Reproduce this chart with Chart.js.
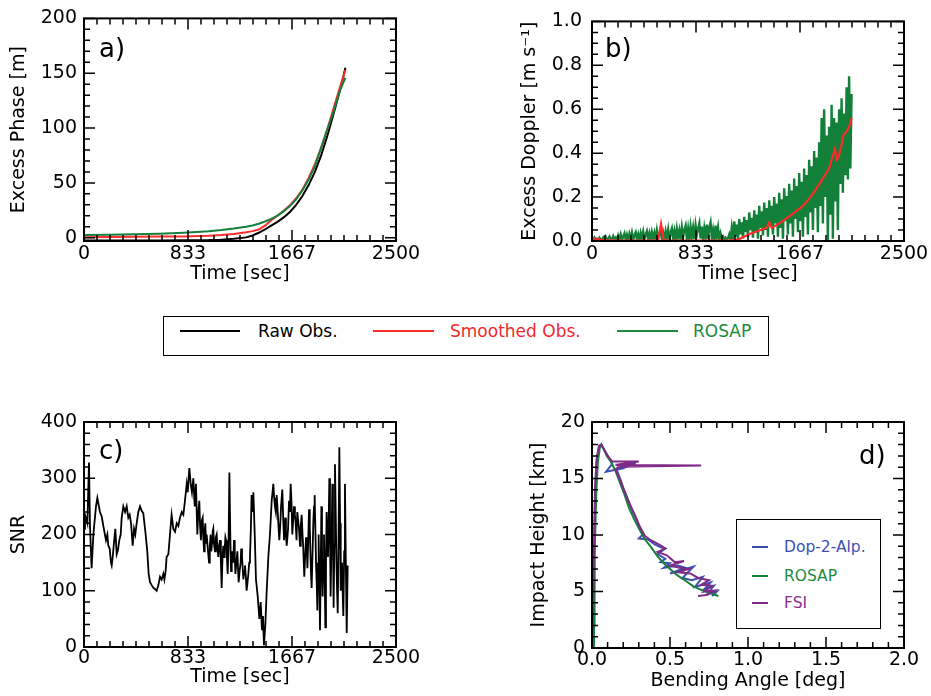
<!DOCTYPE html>
<html>
<head>
<meta charset="utf-8">
<script src="https://cdn.jsdelivr.net/npm/chart.js@4.4.1/dist/chart.umd.min.js"></script>
<style>
  body { margin: 0; background: #fff; width: 931px; height: 696px; position: relative; overflow: hidden; font-family: "DejaVu Sans", sans-serif; }
  canvas { position: absolute; }
  .tag { position: absolute; font-size: 26px; line-height: 26px; color: #000; }
  .legend { position: absolute; border: 1.5px solid #000; background: #fff; box-sizing: border-box; }
  .item { position: absolute; white-space: nowrap; }
  .swatch { position: absolute; height: 2px; }
</style>
</head>
<body>
<canvas id="cA" width="465" height="300" style="left:0;top:0"></canvas>
<canvas id="cB" width="466" height="300" style="left:465px;top:0"></canvas>
<canvas id="cC" width="465" height="296" style="left:0;top:400px"></canvas>
<canvas id="cD" width="466" height="296" style="left:465px;top:400px"></canvas>

<div class="tag" style="left:99px;top:35px">a)</div>
<div class="tag" style="left:605px;top:35px">b)</div>
<div class="tag" style="left:99px;top:437px">c)</div>
<div class="tag" style="left:859px;top:442px">d)</div>

<div class="legend" style="left:163px;top:316px;width:606px;height:40px;font-size:17px">
  <div class="swatch" style="left:16px;top:13px;width:60px;background:#000"></div>
  <div class="item" style="left:94px;top:4px;line-height:20px;color:#000">Raw Obs.</div>
  <div class="swatch" style="left:209px;top:13px;width:61px;background:#ff2a2a"></div>
  <div class="item" style="left:286px;top:4px;line-height:20px;color:#f0282d">Smoothed Obs.</div>
  <div class="swatch" style="left:453px;top:13px;width:61px;background:#1e8a3c"></div>
  <div class="item" style="left:529px;top:4px;line-height:20px;color:#1e8a3c">ROSAP</div>
</div>

<div class="legend" style="left:736px;top:519px;width:145px;height:110px;font-size:15.5px">
  <div class="swatch" style="left:15px;top:26px;width:16px;background:#3c50b4"></div>
  <div class="item" style="left:47px;top:17px;line-height:20px;color:#3c50b4">Dop-2-Alp.</div>
  <div class="swatch" style="left:15px;top:55px;width:16px;background:#15803c"></div>
  <div class="item" style="left:47px;top:46px;line-height:20px;color:#1e8a3c">ROSAP</div>
  <div class="swatch" style="left:15px;top:82px;width:16px;background:#7f2a85"></div>
  <div class="item" style="left:47px;top:73px;line-height:20px;color:#8b2e8e">FSI</div>
</div>

<script>
// a) excess phase [m]
const tPhase = [0, 200, 400, 600, 800, 1000, 1100, 1200, 1300, 1350, 1400, 1450, 1500, 1550, 1600, 1650, 1700, 1750, 1800, 1850, 1900, 1950, 2000, 2050, 2095];
const phaseRaw = [-2.5, -2.5, -2.5, -2.5, -2.4, -2.2, -1.8, -1.0, 0.3, 2.0, 4.5, 7.5, 11.0, 14.5, 18.5, 23.5, 30.0, 38.0, 48.0, 60.0, 75.0, 93.0, 113.0, 134.0, 155.0];
const phaseSmooth = [0.5, 0.6, 0.8, 1.0, 1.2, 1.8, 2.4, 3.4, 5.0, 6.0, 7.5, 11.0, 16.0, 20.0, 24.5, 29.5, 36.0, 44.0, 54.5, 67.0, 82.0, 99.0, 118.0, 137.0, 153.0];
const phaseRosap = [2.5, 2.8, 3.2, 3.7, 4.6, 6.0, 7.0, 8.3, 10.0, 11.2, 12.8, 14.8, 17.2, 20.2, 24.0, 28.8, 35.0, 43.0, 53.0, 65.0, 82.0, 99.0, 115.0, 134.0, 146.0];

// b) excess doppler [m/s]
const tDop = [
  0, 10, 20, 30, 40, 50, 60, 70, 80, 90, 100, 110, 120, 130, 140, 150, 160, 170, 180, 190,
  200, 210, 220, 230, 240, 250, 260, 270, 280, 290, 300, 310, 320, 330, 340, 350, 360, 370, 380, 390,
  400, 410, 420, 430, 440, 450, 460, 470, 480, 490, 500, 510, 520, 530, 540, 550, 560, 570, 580, 590,
  600, 610, 620, 630, 640, 650, 660, 670, 680, 690, 700, 710, 720, 730, 740, 750, 760, 770, 780, 790,
  800, 810, 820, 830, 840, 850, 860, 870, 880, 890, 900, 910, 920, 930, 940, 950, 960, 970, 980, 990,
  1000, 1010, 1020, 1030, 1040, 1050, 1060, 1070, 1080, 1090, 1100, 1110, 1120, 1130, 1140, 1150, 1160, 1170, 1180, 1190,
  1200, 1210, 1220, 1230, 1240, 1250, 1260, 1270, 1280, 1290, 1300, 1310, 1320, 1330, 1340, 1350, 1360, 1370, 1380, 1390,
  1400, 1410, 1420, 1430, 1440, 1450, 1460, 1470, 1480, 1490, 1500, 1510, 1520, 1530, 1540, 1550, 1560, 1570, 1580, 1590,
  1600, 1610, 1620, 1630, 1640, 1650, 1660, 1670, 1680, 1690, 1700, 1710, 1720, 1730, 1740, 1750, 1760, 1770, 1780, 1790,
  1800, 1810, 1820, 1830, 1840, 1850, 1860, 1870, 1880, 1890, 1900, 1910, 1920, 1930, 1940, 1950, 1960, 1970, 1980, 1990,
  2000, 2010, 2020, 2030, 2040, 2050, 2060, 2070, 2080
];
const dopRosap = [
  0.012, 0.003, 0.015, 0.005, 0.010, 0.002, 0.014, 0.004, 0.008, 0.016, 0.005, 0.018, 0.003, 0.012, 0.020, 0.004, 0.010, 0.022, 0.006, 0.015,
  0.002, 0.025, 0.008, 0.030, 0.004, 0.020, 0.035, 0.006, 0.028, 0.003, 0.032, 0.010, 0.038, 0.005, 0.026, 0.040, 0.008, 0.030, 0.002, 0.036,
  0.012, 0.042, 0.006, 0.030, 0.045, 0.010, 0.035, 0.004, 0.040, 0.015, 0.038, 0.003, 0.048, 0.012, 0.030, 0.050, 0.008, 0.036, 0.002, 0.044,
  0.015, 0.052, 0.006, 0.040, 0.058, 0.012, 0.045, 0.004, 0.055, 0.018, 0.048, 0.008, 0.062, 0.020, 0.050, 0.070, 0.010, 0.055, 0.005, 0.065,
  0.020, 0.060, 0.008, 0.072, 0.030, 0.055, 0.080, 0.012, 0.065, 0.004, 0.058, 0.018, 0.075, 0.010, 0.062, 0.085, 0.015, 0.050, 0.003, 0.070,
  0.020, 0.060, 0.008, 0.035, 0.012, 0.020, 0.004, 0.015, 0.008, 0.012, 0.030, 0.005, 0.060, 0.015, 0.090, 0.020, 0.075, 0.010, 0.100, 0.030,
  0.085, 0.012, 0.110, 0.040, 0.095, 0.020, 0.130, 0.050, 0.105, 0.015, 0.140, 0.040, 0.120, 0.010, 0.160, 0.060, 0.135, 0.025, 0.175, 0.050,
  0.150, 0.020, 0.185, 0.070, 0.160, 0.030, 0.200, 0.080, 0.170, 0.020, 0.220, 0.060, 0.190, 0.010, 0.240, 0.090, 0.205, 0.030, 0.260, 0.080,
  0.230, 0.020, 0.285, 0.100, 0.250, 0.040, 0.310, 0.090, 0.270, 0.020, 0.330, 0.110, 0.300, 0.030, 0.370, 0.130, 0.340, 0.050, 0.410, 0.150,
  0.380, 0.040, 0.450, 0.160, 0.560, 0.080, 0.600, 0.200, 0.480, 0.000, 0.520, 0.120, 0.620, 0.010, 0.560, 0.180, 0.540, 0.050, 0.600, 0.260,
  0.650, 0.220, 0.580, 0.300, 0.700, 0.280, 0.750, 0.330, 0.670
];
const tSmooth = [0, 50, 100, 200, 300, 400, 500, 530, 553, 575, 600, 700, 800, 900, 1000, 1100, 1150, 1180, 1200, 1250, 1300, 1350, 1400, 1420, 1440, 1500, 1533, 1600, 1667, 1700, 1750, 1800, 1867, 1900, 1920, 1947, 1960, 1974, 2000, 2014, 2040, 2060, 2081];
const dopSmooth = [0.012, 0.008, 0.004, 0.002, 0.002, 0.002, 0.003, 0.005, 0.078, 0.005, 0.002, 0.002, 0.002, 0.002, 0.002, 0.003, 0.005, 0.008, 0.015, 0.028, 0.040, 0.050, 0.060, 0.085, 0.060, 0.080, 0.093, 0.120, 0.150, 0.165, 0.200, 0.240, 0.300, 0.330, 0.370, 0.420, 0.370, 0.380, 0.440, 0.480, 0.500, 0.520, 0.560];

// c) SNR
const tSnr = [
  0, 8, 27, 40, 48, 61, 75, 96, 107, 128,
  142, 155, 176, 187, 195, 206, 216, 222, 230, 240,
  251, 262, 272, 283, 294, 302, 315, 329, 342, 355,
  366, 377, 390, 401, 411, 422, 435, 449, 462, 475,
  494, 507, 518, 529, 542, 556, 569, 582, 596, 609,
  622, 636, 644, 654, 662, 676, 689, 702, 716, 729,
  743, 756, 769, 783, 796, 809, 823, 831, 844, 855,
  865, 876, 887, 897, 908, 916, 924, 930, 937, 944,
  951, 956, 962, 967, 972, 978, 983, 992, 1002, 1008,
  1015, 1020, 1026, 1031, 1036, 1043, 1050, 1056, 1063, 1070,
  1076, 1083, 1090, 1097, 1103, 1110, 1116, 1122, 1127, 1133,
  1138, 1145, 1151, 1158, 1165, 1172, 1178, 1184, 1189, 1196,
  1202, 1208, 1213, 1221, 1229, 1234, 1239, 1247, 1255, 1260,
  1266, 1272, 1277, 1284, 1290, 1297, 1303, 1310, 1317, 1324,
  1330, 1337, 1343, 1350, 1357, 1368, 1378, 1392, 1405, 1416,
  1426, 1434, 1442, 1453, 1464, 1477, 1490, 1504, 1517, 1524,
  1530, 1537, 1544, 1551, 1557, 1565, 1572, 1579, 1589, 1596,
  1603, 1613, 1618, 1624, 1630, 1635, 1643, 1650, 1656, 1663,
  1669, 1676, 1683, 1690, 1696, 1703, 1709, 1716, 1723, 1731,
  1737, 1744, 1751, 1757, 1765, 1772, 1779, 1785, 1790, 1797,
  1803, 1809, 1814, 1819, 1824, 1831, 1838, 1843, 1848, 1854,
  1859, 1865, 1870, 1875, 1880, 1886, 1891, 1897, 1902, 1907,
  1912, 1918, 1923, 1929, 1934, 1939, 1944, 1950, 1955, 1961,
  1966, 1971, 1976, 1983, 1990, 1995, 2000, 2006, 2011, 2017,
  2022, 2028, 2033, 2040, 2046, 2052, 2057, 2062, 2067, 2073,
  2078, 2085, 2091, 2098, 2105, 2113
];
const snr = [
  210, 235, 220, 328, 215, 140, 200, 250, 265, 240,
  232, 215, 190, 200, 180, 175, 150, 145, 160, 185,
  210, 165, 172, 190, 200, 230, 250, 240, 250, 230,
  235, 220, 180, 210, 200, 220, 240, 250, 242, 238,
  200, 170, 130, 115, 110, 105, 103, 100, 110, 125,
  120, 130, 120, 135, 160, 165, 200, 235, 210, 205,
  220, 215, 230, 240, 235, 260, 290, 275, 318, 290,
  275, 300, 250, 290, 200, 240, 260, 215, 190, 225,
  230, 195, 170, 205, 220, 185, 200, 175, 150, 180,
  200, 170, 185, 205, 210, 180, 170, 195, 200, 175,
  160, 180, 190, 150, 105, 160, 180, 160, 175, 195,
  190, 160, 130, 180, 310, 200, 135, 155, 170, 150,
  190, 160, 130, 150, 170, 140, 115, 135, 150, 175,
  160, 140, 120, 135, 145, 125, 100, 115, 130, 150,
  160, 210, 270, 240, 275, 200, 120, 90, 50, 80,
  30, 55, 3, 40, 100, 160, 200, 260, 290, 265,
  250, 240, 270, 245, 220, 190, 215, 250, 280, 230,
  190, 230, 200, 180, 195, 210, 260, 240, 290, 255,
  200, 225, 250, 235, 220, 190, 240, 225, 210, 180,
  215, 235, 200, 175, 125, 160, 195, 175, 140, 190,
  245, 215, 170, 130, 105, 165, 225, 250, 270, 210,
  150, 110, 65, 140, 200, 120, 30, 140, 250, 180,
  90, 150, 200, 120, 35, 150, 240, 200, 160, 230,
  300, 200, 90, 180, 290, 200, 70, 180, 325, 240,
  160, 100, 60, 200, 355, 220, 100, 130, 150, 95,
  55, 170, 290, 150, 25, 145
];

// d) bending angle [deg] vs impact height [km]
const bendDop = [0.010, 0.012, 0.015, 0.020, 0.030, 0.045, 0.060, 0.080, 0.110, 0.130, 0.090, 0.200, 0.280, 0.180, 0.160, 0.180, 0.200, 0.220, 0.240, 0.250, 0.270, 0.290, 0.310, 0.330, 0.300, 0.360, 0.400, 0.440, 0.470, 0.420, 0.470, 0.440, 0.500, 0.460, 0.550, 0.600, 0.500, 0.580, 0.650, 0.580, 0.640, 0.710, 0.660, 0.760, 0.720, 0.780, 0.740, 0.800, 0.770];
const heightDop = [0.0, 3.0, 8.0, 13.0, 16.5, 17.8, 18.0, 17.5, 16.8, 16.3, 15.6, 15.9, 16.4, 16.0, 15.7, 15.0, 14.2, 13.5, 12.8, 12.4, 11.8, 11.2, 10.6, 10.1, 9.7, 9.6, 9.2, 8.9, 8.8, 8.3, 7.9, 7.6, 7.5, 7.1, 7.3, 7.1, 6.6, 6.9, 7.2, 6.2, 6.0, 6.3, 5.4, 5.8, 5.2, 5.5, 4.8, 5.0, 4.6];
const bendRosap = [0.012, 0.013, 0.015, 0.018, 0.022, 0.028, 0.038, 0.050, 0.060, 0.075, 0.095, 0.120, 0.150, 0.180, 0.210, 0.240, 0.270, 0.300, 0.340, 0.380, 0.420, 0.460, 0.500, 0.550, 0.600, 0.650, 0.700, 0.760, 0.810];
const heightRosap = [0.0, 2.0, 5.0, 8.0, 11.0, 14.0, 16.5, 17.7, 18.0, 17.6, 17.0, 16.5, 15.7, 14.6, 13.5, 12.3, 11.4, 10.6, 9.6, 8.9, 8.1, 7.5, 7.0, 6.4, 5.95, 5.45, 5.15, 4.85, 4.6];
const bendFsi = [0.005, 0.010, 0.015, 0.020, 0.030, 0.045, 0.060, 0.080, 0.100, 0.130, 0.300, 0.200, 0.280, 0.150, 0.700, 0.170, 0.150, 0.170, 0.190, 0.210, 0.230, 0.250, 0.270, 0.290, 0.300, 0.320, 0.340, 0.370, 0.410, 0.450, 0.470, 0.420, 0.480, 0.530, 0.590, 0.500, 0.560, 0.620, 0.550, 0.630, 0.680, 0.750, 0.700, 0.770, 0.720, 0.790, 0.740, 0.680];
const heightFsi = [1.6, 6.0, 11.0, 14.5, 16.8, 17.9, 18.0, 17.5, 17.0, 16.5, 16.5, 16.3, 16.2, 16.2, 16.15, 16.05, 15.8, 15.2, 14.5, 13.8, 13.1, 12.5, 11.9, 11.3, 10.9, 10.4, 9.9, 9.6, 9.3, 9.0, 8.8, 8.5, 8.2, 7.6, 7.7, 7.3, 7.1, 7.0, 6.7, 6.6, 6.2, 6.0, 5.6, 5.5, 5.0, 5.1, 4.7, 4.6];

const timeTicks = [0, 2500 / 3, 5000 / 3, 2500];
const timeLabels = ['0', '833', '1667', '2500'];
const phaseTicks = [0, 50, 100, 150, 200];
const dopTicks = [0, 0.2, 0.4, 0.6, 0.8, 1.0];
const dopLabels = ['0.0', '0.2', '0.4', '0.6', '0.8', '1.0'];
const snrTicks = [0, 100, 200, 300, 400];
const bendTicks = [0, 0.5, 1.0, 1.5, 2.0];
const bendLabels = ['0.0', '0.5', '1.0', '1.5', '2.0'];
const heightTicks = [0, 5, 10, 15, 20];

Chart.defaults.font.family = 'DejaVu Sans';
Chart.defaults.color = '#000';

const zip = (xs, ys) => xs.map((x, i) => ({ x: x, y: ys[i] }));

// box round the plot with inward major and minor ticks on all four sides
const frame = {
  id: 'frame',
  afterDatasetsDraw(chart, args, o) {
    const { ctx, chartArea: a, scales: { x, y } } = chart;
    const marks = (scale, step) => {
      const out = [];
      for (let k = Math.ceil(scale.min / step - 1e-6); k * step <= scale.max + 1e-6; k++) {
        const v = k * step;
        const major = scale.ticks.some(t => Math.abs(t.value - v) < step / 2);
        out.push([scale.getPixelForValue(v), major ? 11 : 6]);
      }
      return out;
    };
    ctx.save();
    ctx.strokeStyle = '#000';
    ctx.lineWidth = 1.5;
    ctx.beginPath();
    for (const [px, len] of marks(x, o.xMinor)) {
      ctx.moveTo(px, a.bottom); ctx.lineTo(px, a.bottom - len);
      ctx.moveTo(px, a.top); ctx.lineTo(px, a.top + len);
    }
    for (const [py, len] of marks(y, o.yMinor)) {
      ctx.moveTo(a.left, py); ctx.lineTo(a.left + len, py);
      ctx.moveTo(a.right, py); ctx.lineTo(a.right - len, py);
    }
    ctx.stroke();
    ctx.lineWidth = 2;
    ctx.strokeRect(a.left, a.top, a.right - a.left, a.bottom - a.top);
    ctx.restore();
  }
};

function xAxis(min, max, vals, labels, title, tickPad, titlePad, height) {
  return {
    type: 'linear', min: min, max: max,
    grid: { display: false, drawTicks: false },
    border: { display: false },
    afterBuildTicks: s => { s.ticks = vals.map(v => ({ value: v })); },
    afterFit: s => { s.height = height; },
    ticks: { font: { size: 19 }, color: '#000', padding: tickPad, maxRotation: 0, autoSkip: false,
             callback: (v, i) => labels[i] },
    title: { display: true, text: title, font: { size: 19 }, color: '#000', padding: { top: 0, bottom: titlePad } }
  };
}

function yAxis(min, max, vals, labels, title, tickPad, titlePad, width) {
  return {
    type: 'linear', min: min, max: max,
    grid: { display: false, drawTicks: false },
    border: { display: false },
    afterBuildTicks: s => { s.ticks = vals.map(v => ({ value: v })); },
    afterFit: s => { s.width = width; },
    ticks: { font: { size: 19 }, color: '#000', padding: tickPad, autoSkip: false,
             callback: (v, i) => labels[i] },
    title: { display: true, text: title, font: { size: 19 }, color: '#000', padding: { top: titlePad, bottom: 0 } }
  };
}

// Chart.js paints the first dataset on top, so the lists go top layer first
function line(data, color, width) {
  return { data: data, borderColor: color, borderWidth: width, showLine: true, pointRadius: 0, tension: 0, fill: false };
}

function panel(id, datasets, padding, minor, x, y) {
  return new Chart(document.getElementById(id), {
    type: 'scatter',
    data: { datasets: datasets },
    options: {
      animation: false, responsive: false, devicePixelRatio: 1, events: [],
      layout: { padding: padding },
      plugins: { legend: { display: false }, tooltip: { enabled: false }, frame: minor },
      scales: { x: x, y: y }
    },
    plugins: [frame]
  });
}

panel('cA', [
  line(zip(tPhase, phaseRosap), '#15803c', 2),
  line(zip(tPhase, phaseSmooth), '#ff2a2a', 2),
  line(zip(tPhase, phaseRaw), '#000000', 2)
], { top: 15, right: 69, bottom: 0, left: 0 }, { xMinor: 2500 / 24, yMinor: 10 },
  xAxis(0, 2500, timeTicks, timeLabels, 'Time [sec]', 1.6, 14.1, 59),
  yAxis(-3, 200, phaseTicks, phaseTicks.map(String), 'Excess Phase [m]', 7, 7.6, 84));

panel('cB', [
  line(zip(tSmooth, dopSmooth), '#ff2a2a', 2.2),
  line(zip(tDop, dopRosap), '#128038', 2.4)
], { top: 15, right: 27, bottom: 0, left: 0 }, { xMinor: 2500 / 24, yMinor: 0.05 },
  xAxis(0, 2500, timeTicks, timeLabels, 'Time [sec]', 1.6, 14.1, 59),
  yAxis(0, 1, dopTicks, dopLabels, 'Excess Doppler [m s\u207B\u00B9]', 10, 53.6, 127));

panel('cC', [
  line(zip(tSnr, snr), '#000000', 1.8)
], { top: 22, right: 69, bottom: 0, left: 0 }, { xMinor: 2500 / 24, yMinor: 20 },
  xAxis(0, 2500, timeTicks, timeLabels, 'Time [sec]', 0, 7.6, 49),
  yAxis(0, 400, snrTicks, snrTicks.map(String), 'SNR', 7, 8.1, 84));

panel('cD', [
  line(zip(bendFsi, heightFsi), '#7f2a85', 2),
  line(zip(bendRosap, heightRosap), '#15803c', 2),
  line(zip(bendDop, heightDop), '#3c50b4', 2)
], { top: 22, right: 27, bottom: 0, left: 0 }, { xMinor: 0.1, yMinor: 1 },
  xAxis(0, 2, bendTicks, bendLabels, 'Bending Angle [deg]', 1, 3.6, 48),
  yAxis(0, 20, heightTicks, heightTicks.map(String), 'Impact Height [km]', 7, 62.6, 127));
</script>
</body>
</html>
